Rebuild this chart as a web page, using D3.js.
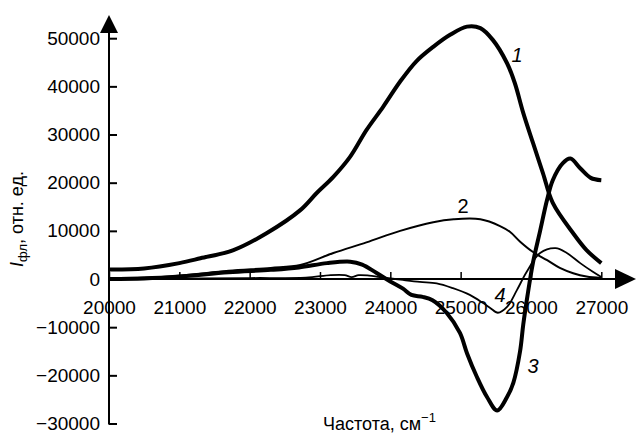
<!DOCTYPE html>
<html>
<head>
<meta charset="utf-8">
<script src="https://cdn.jsdelivr.net/npm/d3@7"></script>
<style>
  html, body { margin: 0; padding: 0; background: #fff; }
  svg { display: block; font-family: "Liberation Sans", Arial, sans-serif; }
</style>
</head>
<body>
<div class="chart"></div>
<script>
// частота, см-1 и интенсивность для каждой кривой
var freq1 = [20000, 20500, 21000, 21300, 21770, 22240, 22720, 22950, 23190, 23430, 23660, 23900, 24140, 24370, 24610, 24850, 25090, 25280, 25460, 25660, 25770, 25890, 26030, 26170, 26310, 26600, 26790, 27000];
var int1  = [2000, 2200, 3300, 4300, 6000, 9500, 14300, 17800, 21200, 25400, 30900, 35800, 41000, 45200, 48200, 50700, 52400, 52100, 49600, 44800, 40700, 34500, 28200, 22000, 15800, 9500, 6000, 3300];

var freq2 = [20000, 20500, 21000, 21700, 22300, 22720, 23190, 23660, 24140, 24610, 24900, 25280, 25560, 25700, 25850, 26030, 26230, 26410, 26600, 26790, 27000];
var int2  = [200, 300, 700, 1700, 2300, 2900, 5400, 7600, 10000, 11800, 12400, 12400, 11000, 9800, 7700, 5600, 3900, 2300, 1200, 500, 200];

var freq3 = [20000, 20500, 21000, 21700, 22300, 22700, 23100, 23430, 23600, 23800, 24000, 24180, 24300, 24460, 24600, 24800, 24990, 25090, 25230, 25375, 25520, 25660, 25750, 25845, 25890, 25950, 26030, 26130, 26230, 26310, 26450, 26560, 26700, 26850, 27000];
var int3  = [0, 100, 500, 1400, 1900, 2400, 3300, 3600, 3000, 1300, -500, -2000, -3300, -3700, -4400, -7000, -11200, -15400, -20300, -24500, -27300, -24500, -21500, -15000, -9500, -3500, 3500, 10000, 16500, 20500, 24000, 25000, 23000, 21000, 20500];

var freq4 = [20000, 21000, 22000, 22800, 23150, 23350, 23450, 23550, 23700, 23850, 24180, 24420, 24660, 24890, 25130, 25320, 25420, 25530, 25660, 25800, 25940, 26130, 26350, 26510, 26700, 26880, 27000];
var int4  = [0, 100, 200, 300, 800, 800, 400, 800, 700, 400, -200, -600, -900, -1900, -3300, -5000, -6000, -7000, -5800, -2300, 1500, 5400, 6400, 5400, 3300, 1500, 400];

var xTicks = [20000, 21000, 22000, 23000, 24000, 25000, 26000, 27000];
var yTicks = [-30000, -20000, -10000, 0, 10000, 20000, 30000, 40000, 50000];

var width = 636, height = 435;

var svg = d3.select(".chart").append("svg")
    .attr("width", width)
    .attr("height", height);

var x = d3.scaleLinear().domain([20000, 27000]).range([109, 601.3]);
var y = d3.scaleLinear().domain([-30000, 50000]).range([423.5, 38.2]);

// оси
var yAxis = svg.append("g")
    .attr("transform", `translate(${x(20000)},0)`)
    .call(d3.axisLeft(y).tickValues(yTicks).tickSize(-8).tickPadding(9).tickFormat(d3.format("d")));
yAxis.select(".domain").remove();
yAxis.selectAll("line").attr("stroke", "#000").attr("stroke-width", 2);
yAxis.selectAll("text").attr("font-size", 19).attr("fill", "#000")
    .style("font-family", '"Liberation Sans", Arial, sans-serif');

var xAxis = svg.append("g")
    .attr("transform", `translate(0,${y(0)})`)
    .call(d3.axisBottom(x).tickValues(xTicks).tickSize(-7).tickPadding(22).tickFormat(d3.format("d")));
xAxis.select(".domain").remove();
xAxis.selectAll("line").attr("stroke", "#000").attr("stroke-width", 1.5);
xAxis.selectAll("text").attr("font-size", 19).attr("fill", "#000")
    .style("font-family", '"Liberation Sans", Arial, sans-serif');

// линии осей со стрелками
svg.append("line")
    .attr("x1", x(20000)).attr("y1", y(-30000) + 1)
    .attr("x2", x(20000)).attr("y2", 30)
    .attr("stroke", "#000").attr("stroke-width", 2);
svg.append("path")
    .attr("d", `M${x(20000)},15L${x(20000) + 9},33L${x(20000) - 9},33Z`)
    .attr("fill", "#000");

svg.append("line")
    .attr("x1", x(20000)).attr("y1", y(0))
    .attr("x2", 618).attr("y2", y(0))
    .attr("stroke", "#000").attr("stroke-width", 2);
svg.append("path")
    .attr("d", `M636,${y(0)}L615,${y(0) - 10}L615,${y(0) + 10}Z`)
    .attr("fill", "#000");

// кривые
var line = d3.line()
    .x(d => x(d[0]))
    .y(d => y(d[1]))
    .curve(d3.curveCatmullRom.alpha(0.5));

var curves = [
    { f: freq1, v: int1, w: 4 },
    { f: freq2, v: int2, w: 2 },
    { f: freq3, v: int3, w: 4 },
    { f: freq4, v: int4, w: 1.8 }
];

svg.append("g").selectAll("path")
    .data(curves)
    .enter()
    .append("path")
    .attr("d", c => line(d3.zip(c.f, c.v)))
    .attr("fill", "none")
    .attr("stroke", "#000")
    .attr("stroke-width", c => c.w)
    .attr("stroke-linejoin", "round");

// номера кривых
var labels = [
    { t: "1", x: 517, y: 62, it: true },
    { t: "2", x: 463, y: 213, it: false },
    { t: "3", x: 533, y: 373, it: true },
    { t: "4", x: 500, y: 302, it: true }
];
svg.append("g").selectAll("text")
    .data(labels)
    .enter()
    .append("text")
    .attr("x", d => d.x)
    .attr("y", d => d.y)
    .attr("text-anchor", "middle")
    .attr("font-size", 20)
    .attr("font-style", d => d.it ? "italic" : "normal")
    .text(d => d.t);

// подписи осей
var xLabel = svg.append("text")
    .attr("x", 323)
    .attr("y", 430)
    .attr("font-size", 18);
xLabel.append("tspan").text("Частота, см");
xLabel.append("tspan").attr("dy", -8).attr("font-size", 13).text("\u22121");

var yLabel = svg.append("text")
    .attr("transform", "translate(23,219) rotate(-90)")
    .attr("text-anchor", "middle")
    .attr("font-size", 18);
yLabel.append("tspan").attr("font-style", "italic").text("I");
yLabel.append("tspan").attr("dy", 4).attr("font-size", 13).text("фл");
yLabel.append("tspan").attr("dy", -4).text(", отн. ед.");
</script>
</body>
</html>
